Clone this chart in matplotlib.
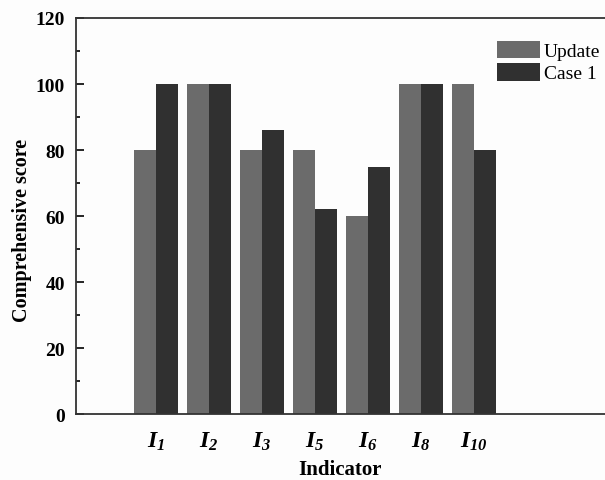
import numpy as np
import matplotlib
matplotlib.use('Agg')
import matplotlib.pyplot as plt

# chart values
indicators = ['1', '2', '3', '5', '6', '8', '10']
update_scores = [80, 100, 80, 80, 60, 100, 100]
case1_scores = [100, 100, 86, 62, 75, 100, 80]

plt.rcParams['font.family'] = 'Liberation Serif'
plt.rcParams['mathtext.fontset'] = 'custom'
plt.rcParams['mathtext.rm'] = 'Liberation Serif'
plt.rcParams['mathtext.it'] = 'Liberation Serif:italic'
plt.rcParams['mathtext.bf'] = 'Liberation Serif:bold'
plt.rcParams['mathtext.bfit'] = 'Liberation Serif:italic:bold'


def main():
    fig = plt.figure(figsize=(6.05, 4.81), dpi=100, facecolor='#fdfdfd')
    ax = fig.add_axes([0.1256, 0.1372, 0.8744, 0.8233], facecolor='#fdfdfd')

    x = np.arange(len(indicators))
    w = 0.42
    ax.bar(x - w / 2, update_scores, w, color='#6b6b6b', label='Update')
    ax.bar(x + w / 2, case1_scores, w, color='#303030', label='Case 1')

    ax.set_xlim(-1.51, 8.47)
    ax.set_ylim(0, 120)
    ax.set_yticks(range(0, 121, 20))
    ax.set_yticks(range(10, 120, 20), minor=True)

    ax.set_xticks(x)
    ax.set_xticklabels([r'$\mathbfit{I}_{\mathbfit{%s}}$' % s for s in indicators], fontsize=17)
    ax.tick_params(axis='x', length=0, pad=11)
    ax.tick_params(axis='y', which='major', direction='in', length=6, width=1.2,
                   labelsize=14, pad=8)
    ax.tick_params(axis='y', which='minor', direction='in', length=3, width=1.2)
    for lbl in ax.get_yticklabels():
        lbl.set_fontweight('bold')

    for side in ['left', 'bottom', 'top']:
        ax.spines[side].set_linewidth(1.3)
        ax.spines[side].set_color('#333333')
    ax.spines['right'].set_visible(False)

    ax.set_ylabel('Comprehensive score', fontsize=14.5, fontweight='bold')
    ax.yaxis.set_label_coords(-0.084, 0.465)
    ax.set_xlabel('Indicator', fontsize=15, fontweight='bold', labelpad=5)

    ax.legend(loc='upper left', bbox_to_anchor=(0.782, 0.962), frameon=False,
              fontsize=14, handlelength=2.2, handleheight=1.0,
              handletextpad=0.2, labelspacing=0.15, borderaxespad=0)

    fig.savefig('out.png', dpi=100, facecolor=fig.get_facecolor())


if __name__ == "__main__":
    main()
